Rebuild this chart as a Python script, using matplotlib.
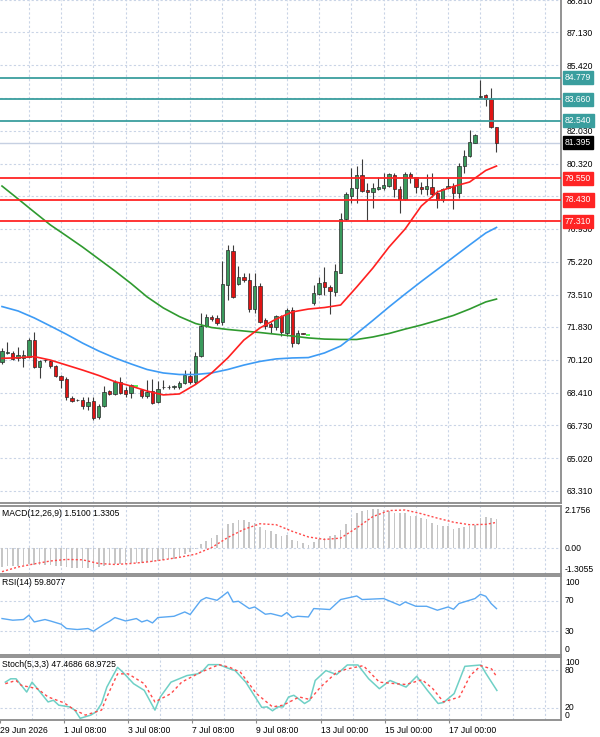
import numpy as np
import matplotlib.pyplot as plt
from matplotlib.transforms import blended_transform_factory as blend

# ---- H4 candles (index 0 = first bar visible at the left edge) ----
opens = [70.01, 70.50, 70.50, 70.22, 70.24, 70.27, 71.15, 69.75, 70.09, 70.04,
         69.78, 69.28, 69.15, 68.14, 68.03, 68.01, 67.70, 67.98, 67.13, 67.70,
         68.48, 68.35, 68.97, 68.53, 68.40, 68.74, 68.55, 68.22, 68.50, 67.93,
         68.69, 68.71, 68.71, 68.69, 68.92, 69.28, 68.97, 70.30, 71.88, 72.35,
         72.30, 72.09, 74.03, 75.80, 74.06, 74.44, 74.27, 72.75, 73.96, 72.17,
         71.98, 71.84, 72.40, 71.50, 72.71, 70.98, 71.53, 71.40, 73.09, 73.54,
         74.18, 73.89, 73.66, 74.65, 77.42, 78.63, 79.03, 79.72, 78.94, 78.86,
         78.98, 79.03, 79.15, 79.72, 78.98, 78.46, 79.78, 79.61, 79.08, 78.98,
         79.08, 78.80, 78.42, 79.03, 79.15, 78.77, 80.19, 80.69, 81.41, 83.80,
         83.88, 83.66, 82.22]
highs = [70.74, 71.06, 70.58, 70.79, 70.63, 71.26, 71.58, 70.11, 70.19, 70.11,
         69.85, 69.33, 69.23, 68.24, 68.09, 68.19, 68.19, 68.19, 67.83, 68.76,
         68.55, 69.07, 69.23, 68.71, 68.87, 68.77, 68.61, 69.07, 69.13, 69.02,
         69.07, 68.82, 68.82, 69.00, 69.62, 69.54, 70.54, 72.56, 72.48, 72.45,
         72.45, 75.27, 76.09, 76.09, 75.00, 74.63, 74.63, 74.63, 74.11, 72.30,
         72.10, 72.45, 72.45, 72.81, 72.85, 71.67, 71.54, 71.41, 74.01, 74.44,
         74.94, 74.01, 75.08, 77.73, 78.86, 80.07, 80.19, 80.55, 79.29, 79.29,
         79.64, 79.81, 79.81, 79.81, 79.15, 79.90, 79.90, 79.64, 79.38, 79.78,
         79.81, 78.94, 79.03, 79.55, 79.29, 80.33, 81.02, 82.06, 81.85, 84.66,
         83.93, 84.23, 82.22]
lows = [69.91, 70.43, 70.09, 70.06, 69.75, 70.22, 69.68, 69.18, 70.01, 69.70,
        69.23, 68.66, 68.04, 67.93, 67.98, 67.57, 67.52, 67.00, 67.05, 67.65,
        68.30, 68.30, 68.35, 68.19, 68.14, 68.71, 68.14, 68.14, 67.83, 67.88,
        68.61, 68.61, 68.61, 68.61, 68.87, 68.87, 68.87, 70.27, 71.83, 72.14,
        71.93, 71.93, 73.23, 73.33, 74.01, 74.19, 72.62, 72.56, 72.01, 71.70,
        71.52, 71.67, 71.36, 71.36, 70.77, 70.95, 71.44, 71.39, 72.97, 73.49,
        73.49, 72.50, 73.44, 74.61, 77.39, 78.28, 78.28, 78.86, 77.35, 77.99,
        78.94, 78.94, 79.08, 78.60, 77.75, 78.43, 79.30, 78.80, 78.74, 78.69,
        78.60, 77.99, 78.34, 78.98, 77.94, 78.51, 79.81, 80.66, 81.38, 83.71,
        83.31, 82.14, 80.93]
closes = [70.58, 70.53, 70.14, 70.37, 70.35, 71.15, 69.77, 70.06, 70.11, 69.78,
          69.28, 69.07, 68.17, 68.00, 68.02, 67.70, 67.91, 67.10, 67.72, 68.45,
          68.37, 68.97, 68.40, 68.35, 68.82, 68.74, 68.22, 68.43, 67.88, 68.61,
          68.71, 68.70, 68.74, 68.92, 69.31, 68.97, 70.32, 71.88, 72.35, 72.22,
          72.06, 74.06, 75.85, 73.41, 74.44, 74.27, 72.75, 73.96, 72.10, 71.86,
          71.81, 72.40, 71.58, 72.71, 70.98, 71.53, 71.46, 71.40, 73.59, 74.13,
          73.89, 73.71, 74.75, 77.42, 78.74, 79.03, 79.72, 78.91, 78.82, 79.03,
          79.12, 79.20, 79.78, 78.98, 78.46, 79.78, 79.61, 79.08, 78.98, 79.15,
          78.74, 78.42, 78.98, 79.13, 78.77, 80.19, 80.71, 81.44, 81.80, 83.83,
          83.66, 82.20, 81.395]

# moving averages read every third bar
ma_idx = [0, 3, 6, 9, 12, 15, 18, 21, 24, 27, 30, 33, 36, 39, 42, 45, 48, 51,
          54, 57, 60, 63, 66, 69, 72, 75, 78, 81, 84, 87, 90, 92]
ma_red = [70.20, 70.23, 70.29, 70.11, 69.85, 69.59, 69.31, 68.99, 68.76, 68.50,
          68.30, 68.35, 68.84, 69.44, 70.22, 71.15, 71.78, 72.24, 72.61, 72.76,
          72.84, 72.97, 73.91, 74.89, 75.98, 76.92, 78.11, 78.84, 79.13, 79.36,
          79.96, 80.19]
ma_blue = [72.89, 72.66, 72.30, 71.88, 71.45, 70.99, 70.58, 70.22, 69.91, 69.62,
           69.44, 69.36, 69.36, 69.44, 69.62, 69.85, 70.04, 70.17, 70.22, 70.24,
           70.48, 70.84, 71.49, 72.17, 72.87, 73.54, 74.19, 74.82, 75.46, 76.09,
           76.71, 77.00]
ma_green = [79.15, 78.48, 77.80, 77.13, 76.56, 75.98, 75.36, 74.74, 74.09, 73.39,
            72.82, 72.37, 72.01, 71.80, 71.70, 71.62, 71.54, 71.45, 71.36, 71.26,
            71.20, 71.18, 71.18, 71.31, 71.49, 71.72, 71.93, 72.17, 72.43, 72.76,
            73.13, 73.28]

# horizontal levels
teal_levels = [84.779, 83.660, 82.540]
red_levels = [79.550, 78.430, 77.310]
bid = 81.395
price_ticks = [63.31, 65.02, 66.73, 68.41, 70.12, 71.83, 73.51, 75.22, 76.93,
               78.61, 80.32, 82.03, 83.71, 85.42, 87.13, 88.81]

# MACD(12,26,9)
macd_hist = [-0.95, -0.93, -0.92, -0.90, -0.88, -0.82, -0.85, -0.86, -0.87, -0.88,
             -0.90, -0.92, -0.98, -1.00, -1.00, -1.00, -1.00, -1.02, -0.98, -0.92,
             -0.88, -0.84, -0.84, -0.82, -0.78, -0.75, -0.74, -0.72, -0.72, -0.66,
             -0.62, -0.58, -0.55, -0.45, -0.30, -0.20, -0.05, 0.23, 0.35, 0.55,
             0.68, 1.00, 1.25, 1.30, 1.45, 1.45, 1.35, 1.30, 1.10, 0.95,
             0.90, 0.75, 0.65, 0.70, 0.44, 0.35, 0.26, 0.17, 0.30, 0.47,
             0.52, 0.61, 0.67, 0.96, 1.27, 1.57, 1.80, 1.92, 1.98, 2.01,
             2.01, 1.98, 1.92, 1.84, 1.80, 1.80, 1.66, 1.66, 1.57, 1.48,
             1.31, 1.22, 1.14, 1.14, 1.00, 1.05, 1.10, 1.14, 1.17, 1.57,
             1.63, 1.57, 1.51]
macd_signal = [-1.21, -0.97, -0.81, -0.66, -0.58, -0.60, -0.79, -0.84, -0.79, -0.71,
               -0.60, -0.47, -0.31, 0.03, 0.55, 0.97, 1.26, 1.21, 0.87, 0.58,
               0.45, 0.52, 1.05, 1.63, 1.94, 1.97, 1.78, 1.55, 1.34, 1.21,
               1.23, 1.3305]

# RSI(14)
rsi_idx = [0, 2, 4, 5, 6, 8, 9, 11, 12, 14, 16, 17, 19, 20, 21, 23, 25, 26, 27,
           28, 29, 32, 34, 35, 37, 38, 40, 42, 43, 44, 46, 47, 49, 50, 52, 53,
           54, 55, 57, 58, 61, 63, 66, 67, 71, 74, 75, 77, 79, 81, 83, 84, 85,
           88, 89, 90, 91, 92]
rsi_val = [46.7, 44.5, 45.4, 51.1, 42.2, 45.4, 43.5, 39.2, 33.5, 32.2, 33.5, 30.0,
           39.2, 43.1, 48.0, 43.5, 46.7, 42.2, 44.5, 40.9, 48.0, 49.7, 55.4, 52.0,
           70.8, 74.4, 70.8, 81.8, 68.6, 69.5, 59.9, 62.0, 52.4, 53.3, 49.7, 54.6,
           48.0, 49.7, 48.8, 59.9, 58.6, 71.8, 76.5, 71.8, 73.1, 64.2, 68.6, 62.9,
           62.9, 57.7, 62.0, 59.0, 66.5, 73.1, 78.8, 76.1, 66.5, 59.81]

# Stochastic(5,3,3)
st_main_idx = [0, 1, 2, 4, 5, 6, 8, 9, 10, 12, 13, 14, 16, 17, 18, 19, 21, 22, 24,
               26, 28, 29, 31, 34, 36, 37, 38, 40, 42, 43, 45, 48, 49, 50, 51, 52,
               53, 54, 55, 56, 57, 58, 60, 62, 64, 66, 68, 70, 72, 75, 77, 79, 81,
               82, 84, 86, 89, 90, 92]
st_main = [60.8, 66.2, 66.2, 44.9, 60.8, 50.3, 29.0, 31.7, 23.8, 21.1, 15.9, 2.7,
           7.9, 13.2, 26.5, 52.9, 84.6, 76.7, 58.3, 47.6, 15.9, 37.0, 60.8, 71.4,
           74.1, 79.4, 88.9, 88.9, 82.1, 79.4, 60.8, 20.2, 21.1, 14.8, 21.1, 21.1,
           37.0, 39.7, 33.3, 26.5, 31.7, 63.5, 79.4, 73.0, 88.4, 88.4, 66.2, 50.3,
           63.5, 52.9, 70.3, 47.6, 26.5, 28.1, 42.4, 86.2, 88.4, 74.1, 47.4686]
st_sig_idx = [0, 2, 3, 6, 8, 11, 13, 15, 18, 19, 21, 23, 26, 28, 31, 33, 35, 37,
              40, 42, 44, 47, 50, 52, 55, 57, 59, 62, 64, 67, 70, 73, 75, 78, 80,
              82, 85, 87, 89, 91, 92]
st_sig = [58.3, 63.5, 55.6, 50.3, 37.0, 27.5, 15.9, 7.9, 15.9, 37.0, 74.1, 74.1,
          58.3, 29.0, 42.4, 60.8, 69.8, 78.3, 88.9, 84.6, 76.7, 42.4, 21.1, 23.8,
          37.0, 32.9, 52.9, 76.7, 82.1, 87.3, 60.8, 58.3, 57.1, 64.6, 50.3, 29.0,
          37.0, 71.4, 87.3, 82.1, 68.9725]

time_idx = [-1, 11, 23, 35, 47, 59, 71, 83]
time_labels = ['29 Jun 2026', '1 Jul 08:00', '3 Jul 08:00', '7 Jul 08:00',
               '9 Jul 08:00', '13 Jul 00:00', '15 Jul 00:00', '17 Jul 00:00']

# ---- styling ----
plt.rcParams['font.family'] = ['Liberation Sans', 'DejaVu Sans']
FS = 6.2
GRID = '#c9d4e6'
FRAME = '#8a8a8a'
TEAL = '#3a9e9e'
RED = '#ff2424'
BULL = '#3a9a5c'
BEAR = '#e01414'

W, H = 600, 737
fig = plt.figure(figsize=(W / 100, H / 100), dpi=100)


def panel(top, bottom):
    return fig.add_axes([0, 1 - bottom / H, 561 / W, (bottom - top) / H])


ax = panel(0, 503)
ax_macd = panel(506, 573.5)
ax_rsi = panel(576, 654.5)
ax_st = panel(656.5, 720)
axes = [ax, ax_macd, ax_rsi, ax_st]

for a in axes:
    a.set_xlim(-0.372, 104.0)
    a.set_xticks([])
    a.set_yticks([])
    for g in range(5, 104, 6):
        a.axvline(g, color=GRID, lw=0.8, ls=(0, (2, 2)), zorder=0)
    a.spines['left'].set_visible(False)
    for s in ['top', 'bottom', 'right']:
        a.spines[s].set_color(FRAME)
        a.spines[s].set_linewidth(1.3)
ax.spines['top'].set_visible(False)

# ---- main price panel ----
ax.set_ylim(62.685, 88.815)
for p in price_ticks:
    ax.axhline(p, color=GRID, lw=0.8, ls=(0, (2, 2)), zorder=0)
ax.yaxis.tick_right()
ax.set_yticks(price_ticks)
ax.set_yticklabels([f'{p:.3f}' for p in price_ticks])
ax.tick_params(axis='y', length=0, pad=3.8, labelsize=FS, colors='black')

x = np.arange(len(opens))
o = np.array(opens)
c = np.array(closes)
ax.vlines(x, lows, highs, color='#3c3c3c', lw=0.8, zorder=3)
up = c > o
down = c < o
flat = c == o
ax.bar(x[up], (c - o)[up], bottom=o[up], width=0.62, color=BULL,
       edgecolor='#2a2a2a', lw=0.5, zorder=4)
ax.bar(x[down], (o - c)[down], bottom=c[down], width=0.62, color=BEAR,
       edgecolor='#2a2a2a', lw=0.5, zorder=4)
ax.hlines(c[flat], x[flat] - 0.35, x[flat] + 0.35, color='#33ff33', lw=1.2, zorder=4)

ax.plot(ma_idx, ma_green, color='#2f9a2f', lw=1.2, zorder=5)
ax.plot(ma_idx, ma_blue, color='#3d9bf5', lw=1.2, zorder=5)
ax.plot(ma_idx, ma_red, color='#ff2020', lw=1.2, zorder=5)

tr = blend(ax.transAxes, ax.transData)
ax.axhline(bid, color='#c6d0e2', lw=1.0, zorder=2)
ax.text(1 + 4 / 561, bid, f'{bid:.3f}', transform=tr, color='white', fontsize=FS,
        va='center', ha='left', clip_on=False, zorder=10,
        bbox=dict(boxstyle='square,pad=0.25', fc='black', ec='black'))
for lv in teal_levels:
    ax.axhline(lv, color=TEAL, lw=1.3, zorder=6)
    ax.text(1 + 4 / 561, lv, f'{lv:.3f}', transform=tr, color='white', fontsize=FS,
            va='center', ha='left', clip_on=False, zorder=10,
            bbox=dict(boxstyle='square,pad=0.25', fc=TEAL, ec=TEAL))
for lv in red_levels:
    ax.axhline(lv, color=RED, lw=1.3, zorder=6)
    ax.text(1 + 4 / 561, lv, f'{lv:.3f}', transform=tr, color='white', fontsize=FS,
            va='center', ha='left', clip_on=False, zorder=10,
            bbox=dict(boxstyle='square,pad=0.25', fc=RED, ec=RED))

# ---- MACD ----
ax_macd.set_ylim(-1.3055, 2.1756)
ax_macd.axhline(0, color=GRID, lw=0.8, ls=(0, (2, 2)), zorder=0)
ax_macd.bar(x, macd_hist, width=0.3, color='#c6c6c6', lw=0, zorder=2)
ax_macd.plot(ma_idx, macd_signal, color='#ff4a4a', lw=1.0, ls=(0, (1.5, 1.5)), zorder=3)
ax_macd.text(0.004, 0.895, 'MACD(12,26,9) 1.5100 1.3305', transform=ax_macd.transAxes,
             fontsize=FS, va='center', ha='left')

# ---- RSI ----
ax_rsi.set_ylim(-0.8, 102.9)
for lv in [70, 30]:
    ax_rsi.axhline(lv, color=GRID, lw=0.8, ls=(0, (2, 2)), zorder=0)
ax_rsi.plot(rsi_idx, rsi_val, color='#5aa8f2', lw=1.0, zorder=3)
ax_rsi.text(0.004, 0.915, 'RSI(14) 59.8077', transform=ax_rsi.transAxes,
            fontsize=FS, va='center', ha='left')

# ---- Stochastic ----
ax_st.set_ylim(0, 102)
for lv in [80, 20]:
    ax_st.axhline(lv, color=GRID, lw=0.8, ls=(0, (2, 2)), zorder=0)
ax_st.plot(st_main_idx, st_main, color='#6fd0c6', lw=1.1, zorder=3)
ax_st.plot(st_sig_idx, st_sig, color='#ff4a4a', lw=1.0, ls=(0, (2, 2)), zorder=4)
ax_st.text(0.004, 0.88, 'Stoch(5,3,3) 47.4686 68.9725', transform=ax_st.transAxes,
           fontsize=FS, va='center', ha='left')

# right-hand scale labels of the sub windows
sub_labels = [
    (ax_macd, [(2.1756, '2.1756', 'top'), (0.0, '0.00', 'center'), (-1.3055, '-1.3055', 'bottom')]),
    (ax_rsi, [(100, '100', 'top'), (70, '70', 'center'), (30, '30', 'center'), (-0.8, '0', 'bottom')]),
    (ax_st, [(100, '100', 'top'), (80, '80', 'center'), (20, '20', 'center'), (0, '0', 'bottom')]),
]
for a, items in sub_labels:
    t = blend(a.transAxes, a.transData)
    for val, lab, va in items:
        a.text(1 + 4 / 561, val, lab, transform=t, fontsize=FS, va=va, ha='left',
               clip_on=False)

# time axis
ax_st.set_xticks(time_idx)
ax_st.set_xticklabels(time_labels)
ax_st.tick_params(axis='x', length=2.5, pad=1.5, labelsize=FS, color=FRAME)
for lab in ax_st.get_xticklabels():
    lab.set_ha('left')

fig.savefig('out.png', dpi=100)
